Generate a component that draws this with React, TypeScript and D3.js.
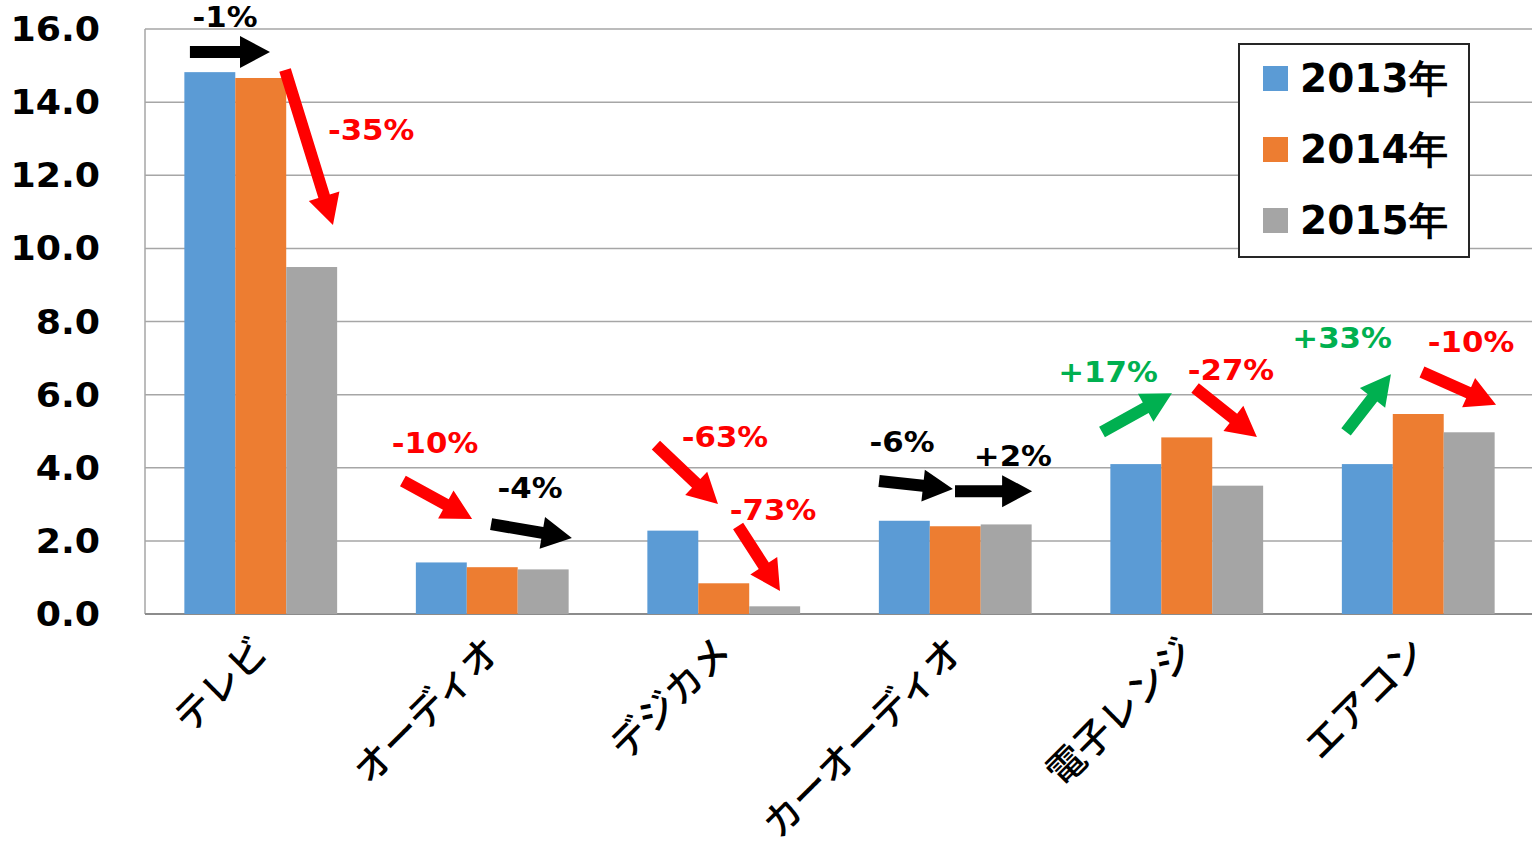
import React from "react";
import * as d3 from "d3";

const categories = ["テレビ", "オーディオ", "デジカメ", "カーオーディオ", "電子レンジ", "エアコン"];
const seriesNames = ["2013年", "2014年", "2015年"];
const values2013 = [14.82, 1.41, 2.28, 2.55, 4.1, 4.1];
const values2014 = [14.66, 1.28, 0.84, 2.4, 4.83, 5.47];
const values2015 = [9.49, 1.22, 0.21, 2.45, 3.51, 4.97];
const yTicks = [0, 2, 4, 6, 8, 10, 12, 14, 16];
const colors = ["#5B9BD5", "#ED7D31", "#A5A5A5"];

// annotations in data units: x = category position (0..6), y = value
const arrows = [
  { x1: 0.194, y1: 15.37, x2: 0.54, y2: 15.37, c: "#000000" },
  { x1: 0.605, y1: 14.88, x2: 0.812, y2: 10.64, c: "#FF0000" },
  { x1: 1.114, y1: 3.64, x2: 1.413, y2: 2.6, c: "#FF0000" },
  { x1: 1.495, y1: 2.46, x2: 1.844, y2: 2.08, c: "#000000" },
  { x1: 2.207, y1: 4.62, x2: 2.475, y2: 3.01, c: "#FF0000" },
  { x1: 2.562, y1: 2.41, x2: 2.743, y2: 0.63, c: "#FF0000" },
  { x1: 3.171, y1: 3.64, x2: 3.49, y2: 3.42, c: "#000000" },
  { x1: 3.499, y1: 3.36, x2: 3.832, y2: 3.36, c: "#000000" },
  { x1: 4.134, y1: 4.98, x2: 4.436, y2: 6.04, c: "#00B050" },
  { x1: 4.536, y1: 6.18, x2: 4.803, y2: 4.84, c: "#FF0000" },
  { x1: 5.188, y1: 4.98, x2: 5.382, y2: 6.56, c: "#00B050" },
  { x1: 5.516, y1: 6.62, x2: 5.836, y2: 5.72, c: "#FF0000" },
];
const labels = [
  { t: "-1%", x: 0.346, y: 16.05, c: "#000000", a: "middle" },
  { t: "-35%", x: 0.79, y: 12.96, c: "#FF0000", a: "start" },
  { t: "-10%", x: 1.253, y: 4.4, c: "#FF0000", a: "middle" },
  { t: "-4%", x: 1.663, y: 3.17, c: "#000000", a: "middle" },
  { t: "-63%", x: 2.505, y: 4.57, c: "#FF0000", a: "middle" },
  { t: "-73%", x: 2.713, y: 2.57, c: "#FF0000", a: "middle" },
  { t: "-6%", x: 3.27, y: 4.43, c: "#000000", a: "middle" },
  { t: "+2%", x: 3.749, y: 4.05, c: "#000000", a: "middle" },
  { t: "+17%", x: 4.16, y: 6.35, c: "#00B050", a: "middle" },
  { t: "-27%", x: 4.691, y: 6.4, c: "#FF0000", a: "middle" },
  { t: "+33%", x: 5.171, y: 7.28, c: "#00B050", a: "middle" },
  { t: "-10%", x: 5.728, y: 7.17, c: "#FF0000", a: "middle" },
];

const W = 1532;
const H = 856;
const left = 145;
const right = 1534;
const top = 29;
const bottom = 614;

function arrowPath(x1: number, y1: number, x2: number, y2: number) {
  const dx = x2 - x1;
  const dy = y2 - y1;
  const len = Math.hypot(dx, dy);
  const ux = dx / len, uy = dy / len;
  const nx = -uy, ny = ux;
  const sw = 6, hw = 16, hl = 30;
  const bx = x2 - ux * hl, by = y2 - uy * hl;
  const pts = [
    [x1 + nx * sw, y1 + ny * sw],
    [bx + nx * sw, by + ny * sw],
    [bx + nx * hw, by + ny * hw],
    [x2, y2],
    [bx - nx * hw, by - ny * hw],
    [bx - nx * sw, by - ny * sw],
    [x1 - nx * sw, y1 - ny * sw],
  ];
  return "M" + pts.map((p) => p.join(",")).join("L") + "Z";
}

export default function App() {
  const y = d3.scaleLinear().domain([0, 16]).range([bottom, top]);
  const x0 = d3.scaleBand<string>().domain(categories).range([left, right]).paddingInner(0.34).paddingOuter(0.17);
  const x1 = d3.scaleBand<string>().domain(seriesNames).range([0, x0.bandwidth()]);
  const xc = d3.scaleLinear().domain([0, 6]).range([left, right]);
  const series = [values2013, values2014, values2015];
  const fmt = d3.format(".1f");
  const numFont = "'DejaVu Sans', Verdana, sans-serif";

  return (
    <svg width={W} height={H} style={{ position: "fixed", left: 0, top: 0, background: "#fff" }}>
      <rect x={0} y={0} width={W} height={H} fill="#fff" />
      {yTicks.map((t) => (
        <line key={t} x1={left} x2={W} y1={y(t)} y2={y(t)} stroke="#a6a6a6" strokeWidth={1.5} />
      ))}
      <line x1={left} x2={left} y1={top} y2={bottom} stroke="#a6a6a6" strokeWidth={1.5} />
      <line x1={left} x2={W} y1={bottom} y2={bottom} stroke="#8c8c8c" strokeWidth={2} />
      {yTicks.map((t) => (
        <text
          key={"l" + t}
          transform={`translate(100,${y(t) + 12}) scale(1.1,1)`}
          textAnchor="end"
          fontFamily={numFont}
          fontWeight="bold"
          fontSize={33}
          fill="#000"
        >
          {fmt(t)}
        </text>
      ))}
      {categories.map((c, i) => (
        <g key={c} transform={`translate(${x0(c)},0)`}>
          {series.map((s, j) => (
            <rect
              key={j}
              x={x1(seriesNames[j])}
              y={y(s[i])}
              width={x1.bandwidth()}
              height={bottom - y(s[i])}
              fill={colors[j]}
            />
          ))}
        </g>
      ))}
      {categories.map((c) => {
        const cx = (x0(c) as number) + x0.bandwidth() / 2 + 10;
        return (
          <text
            key={"c" + c}
            transform={`translate(${cx},${bottom + 40}) rotate(-45)`}
            textAnchor="end"
            fontFamily="'Noto Sans CJK JP', sans-serif"
            fontWeight={500}
            fontSize={38}
            fill="#000"
          >
            {c}
          </text>
        );
      })}
      {arrows.map((a, i) => (
        <path key={"a" + i} d={arrowPath(xc(a.x1), y(a.y1), xc(a.x2), y(a.y2))} fill={a.c} />
      ))}
      {labels.map((l, i) => (
        <text
          key={"t" + i}
          transform={`translate(${xc(l.x)},${y(l.y)}) scale(1.1,1)`}
          textAnchor={l.a}
          fontFamily={numFont}
          fontWeight="bold"
          fontSize={28}
          fill={l.c}
        >
          {l.t}
        </text>
      ))}
      <g>
        <rect x={1239} y={44} width={230} height={213} fill="#fff" stroke="#262626" strokeWidth={2} />
        {seriesNames.map((s, j) => (
          <g key={s} transform={`translate(1263,${78 + j * 71})`}>
            <rect x={0} y={-12} width={25} height={25} fill={colors[j]} />
            <text x={37} y={14} fontFamily={numFont} fontWeight="bold" fontSize={39} fill="#000">
              {s}
            </text>
          </g>
        ))}
      </g>
    </svg>
  );
}
